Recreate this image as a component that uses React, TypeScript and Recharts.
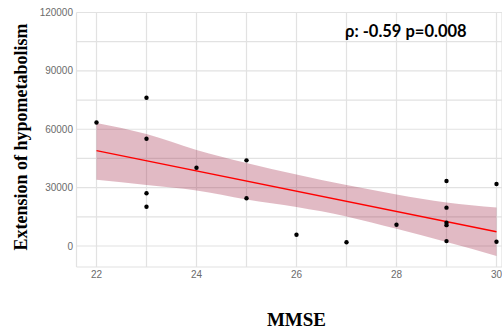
import React from "react";
import {
  ComposedChart,
  XAxis,
  YAxis,
  CartesianGrid,
  Area,
  Line,
  Scatter,
} from "recharts";

// Observed points
const mmse = [22, 23, 23, 23, 23, 24, 25, 25, 26, 27, 28, 29, 29, 29, 29, 29, 30, 30];
const hypo = [63500, 76200, 55100, 27100, 20200, 40200, 44000, 24500, 5800, 1900, 10900, 33400, 19700, 12000, 10700, 2500, 31850, 2200];

// Confidence band
const bandX = [22, 23, 24, 25, 26, 27, 28, 29, 30];
const bandLow = [34000, 31300, 28500, 23900, 20000, 15200, 8800, 2000, -5100];
const bandHigh = [63200, 57500, 49300, 42600, 36700, 31300, 26500, 22400, 19800];

// Fitted line
const fitX = [22, 30];
const fitY = [49000, 7300];

// Axis ticks
const xTicks = [22, 23, 24, 25, 26, 27, 28, 29, 30];
const xLabelTicks = [22, 24, 26, 28, 30];
const yTicks = [0, 15000, 30000, 45000, 60000, 75000, 90000, 105000, 120000];
const yLabelTicks = [0, 30000, 60000, 90000, 120000];

const annotation = "ρ: -0.59 p=0.008";
const xTitle = "MMSE";
const yTitle = "Extension of hypometabolism";

const bandData = bandX.map((x, i) => ({ x, band: [bandLow[i], bandHigh[i]] }));
const fitData = fitX.map((x, i) => ({ x, fit: fitY[i] }));
const pointData = mmse.map((x, i) => ({ x, y: hypo[i] }));

const tickStyle = { fontFamily: "'Liberation Sans', Arial, sans-serif", fontSize: 10, fill: "#6b6b6b" };

const Dot = (props: any) => <circle cx={props.cx} cy={props.cy} r={2.2} fill="#000" />;

export default function App() {
  return (
    <div style={{ position: "fixed", left: 0, top: 0, width: 502, height: 330, background: "#fff", overflow: "hidden" }}>
      <ComposedChart
        width={502}
        height={330}
        data={bandData}
        margin={{ top: 12.5, right: 0, bottom: 0, left: 0 }}
      >
        <CartesianGrid stroke="#e2e2e2" strokeWidth={1.2} />
        <XAxis
          dataKey="x"
          type="number"
          domain={[21.6, 30.11]}
          allowDataOverflow
          ticks={xTicks}
          tickFormatter={(v: number) => (xLabelTicks.includes(v) ? String(v) : "")}
          axisLine={false}
          tickLine={false}
          tickSize={0}
          tickMargin={4}
          height={63}
          tick={tickStyle}
          interval={0}
        />
        <YAxis
          type="number"
          domain={[-10800, 120000]}
          allowDataOverflow
          ticks={yTicks}
          tickFormatter={(v: number) => (yLabelTicks.includes(v) ? String(v) : "")}
          axisLine={false}
          tickLine={false}
          tickSize={0}
          tickMargin={3.5}
          width={76.5}
          tick={tickStyle}
          interval={0}
        />
        <Area
          dataKey="band"
          type="monotone"
          stroke="none"
          fill="#9b1b3a"
          fillOpacity={0.3}
          isAnimationActive={false}
          activeDot={false}
        />
        <Line
          data={fitData}
          dataKey="fit"
          stroke="#ff0000"
          strokeWidth={1.4}
          dot={false}
          activeDot={false}
          isAnimationActive={false}
        />
        <Scatter data={pointData} dataKey="y" shape={Dot} isAnimationActive={false} />
      </ComposedChart>
      <svg width={502} height={330} style={{ position: "absolute", left: 0, top: 0, pointerEvents: "none" }}>
        <text
          x={345}
          y={36.5}
          fontFamily="Lato, 'Open Sans', sans-serif"
          fontWeight="bold"
          fontSize={16.5}
          fill="#000"
        >
          {annotation}
        </text>
        <text
          x={296.5}
          y={326}
          textAnchor="middle"
          fontFamily="'Liberation Serif', 'Times New Roman', serif"
          fontWeight="bold"
          fontSize={19}
          fill="#000"
        >
          {xTitle}
        </text>
        <text
          x={27}
          y={137}
          textAnchor="middle"
          transform="rotate(-90, 27, 137)"
          fontFamily="'Liberation Serif', 'Times New Roman', serif"
          fontWeight="bold"
          fontSize={18}
          fill="#000"
        >
          {yTitle}
        </text>
      </svg>
    </div>
  );
}
